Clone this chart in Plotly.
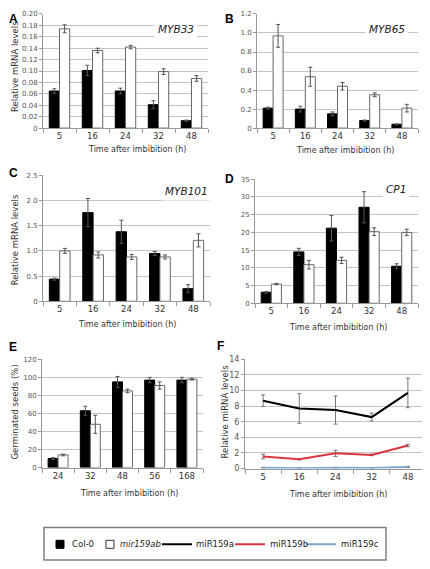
import plotly.graph_objects as go

# page window is 430x569; the page body adds an 8px margin, so the figure is 422x561
OFF = 8
W, H = 430 - OFF, 569 - OFF

# ---------------- data ----------------
times = ['5', '16', '24', '32', '48']
germ_times = ['24', '32', '48', '56', '168']

myb33_col = [0.065, 0.101, 0.065, 0.041, 0.013]
myb33_col_err = [0.004, 0.009, 0.005, 0.007, 0.001]
myb33_mir = [0.174, 0.136, 0.142, 0.099, 0.087]
myb33_mir_err = [0.007, 0.004, 0.003, 0.005, 0.005]

myb65_col = [0.21, 0.20, 0.15, 0.08, 0.04]
myb65_col_err = [0.01, 0.03, 0.02, 0.005, 0.005]
myb65_mir = [0.97, 0.54, 0.44, 0.35, 0.21]
myb65_mir_err = [0.12, 0.10, 0.04, 0.02, 0.04]

myb101_col = [0.44, 1.76, 1.38, 0.95, 0.25]
myb101_col_err = [0.02, 0.28, 0.23, 0.04, 0.08]
myb101_mir = [1.00, 0.92, 0.88, 0.88, 1.21]
myb101_mir_err = [0.05, 0.06, 0.05, 0.04, 0.13]

cp1_col = [3.1, 14.5, 21.2, 27.1, 10.45]
cp1_col_err = [0.2, 1.0, 3.6, 4.4, 0.7]
cp1_mir = [5.4, 10.9, 12.1, 20.2, 20.0]
cp1_mir_err = [0.2, 1.2, 0.9, 1.1, 0.9]

germ_col = [10, 63, 95, 97, 97]
germ_col_err = [1, 5, 6, 3, 3]
germ_mir = [14, 48, 85, 91, 98]
germ_mir_err = [1, 10, 2, 4, 1]

mir159a = [8.7, 7.7, 7.5, 6.6, 9.7]
mir159a_err = [0.75, 1.9, 1.8, 0.5, 1.9]
mir159b = [1.55, 1.2, 1.95, 1.75, 2.95]
mir159b_err = [0.3, 0.1, 0.4, 0.1, 0.15]
mir159c = [0.1, 0.05, 0.1, 0.08, 0.2]
mir159c_err = [0.05, 0.03, 0.05, 0.03, 0.08]

ticks_a = ['0', '0.02', '0.04', '0.06', '0.08', '0.10', '0.12', '0.14', '0.16', '0.18', '0.20']
ticks_b = ['0', '0.2', '0.4', '0.6', '0.8', '1.0', '1.2']
ticks_c = ['0', '0.5', '1.0', '1.5', '2.0', '2.5']
ticks_d = ['0', '5', '10', '15', '20', '25', '30', '35']
ticks_e = ['0', '20', '40', '60', '80', '100', '120']
ticks_f = ['0', '2', '4', '6', '8', '10', '12', '14']

x_title = 'Time after imbibition (h)'
gene_names = ['MYB33', 'MYB65', 'MYB101', 'CP1']
panel_letters = ['A', 'B', 'C', 'D', 'E', 'F']
legend_labels = ['Col-0', '<i>mir159ab</i>', 'miR159a', 'miR159b', 'miR159c']

# ---------------- helpers ----------------
FONT = 'DejaVu Sans'


def px(x):
    return (x - OFF) / W


def py(y):
    return 1 - (y - OFF) / H


def vals(tt):
    return [float(t) for t in tt]


fig = go.Figure()

# panel pixel boxes in window pixels: (x0, x1, ytop, ybottom)
boxes = [
    (43, 208, 10, 126),
    (257, 418, 10, 126),
    (43, 210, 174, 302),
    (255, 418, 178, 304),
    (42, 203, 361, 471),
    (245, 426, 361, 472),
]
tick_lists = [ticks_a, ticks_b, ticks_c, ticks_d, ticks_e, ticks_f]
ytick_sizes = [7, 7, 7, 7, 7, 8]
cats = [times, times, times, times, germ_times, times]

layout_axes = {}
for i, (b, tl, ts, ct) in enumerate(zip(boxes, tick_lists, ytick_sizes, cats)):
    n = '' if i == 0 else str(i + 1)
    tv = vals(tl)
    layout_axes['xaxis' + n] = dict(
        domain=[px(b[0]), px(b[1])], anchor='y' + n, type='category',
        categoryorder='array', categoryarray=ct, range=[-0.5, len(ct) - 0.5],
        tickson='boundaries', ticks='outside', ticklen=4, tickcolor='#999',
        showline=True, linecolor='#999', linewidth=1, showgrid=False,
        tickfont=dict(family=FONT, size=8.5, color='#333'), fixedrange=True)
    layout_axes['yaxis' + n] = dict(
        domain=[py(b[3]), py(b[2])], anchor='x' + n,
        range=[0, tv[-1]], tickvals=tv, ticktext=tl,
        ticks='outside', ticklen=3, tickcolor='#999',
        showline=True, linecolor='#999', linewidth=1,
        showgrid=True, gridcolor='#c4c4c4', gridwidth=1, zeroline=False,
        tickfont=dict(family=FONT, size=ts, color='#555'), fixedrange=True)


def add_bars(i, x, col, col_err, mir, mir_err):
    n = '' if i == 0 else str(i + 1)
    fig.add_trace(go.Bar(
        x=x, y=col, name='Col-0', showlegend=False,
        marker=dict(color='black', line=dict(color='black', width=1)),
        error_y=dict(type='data', array=col_err, color='#555', thickness=1, width=2),
        xaxis='x' + n, yaxis='y' + n))
    fig.add_trace(go.Bar(
        x=x, y=mir, name='mir159ab', showlegend=False,
        marker=dict(color='white', line=dict(color='#666', width=1)),
        error_y=dict(type='data', array=mir_err, color='#555', thickness=1, width=2),
        xaxis='x' + n, yaxis='y' + n))


add_bars(0, times, myb33_col, myb33_col_err, myb33_mir, myb33_mir_err)
add_bars(1, times, myb65_col, myb65_col_err, myb65_mir, myb65_mir_err)
add_bars(2, times, myb101_col, myb101_col_err, myb101_mir, myb101_mir_err)
add_bars(3, times, cp1_col, cp1_col_err, cp1_mir, cp1_mir_err)
add_bars(4, germ_times, germ_col, germ_col_err, germ_mir, germ_mir_err)

# legend swatches for the bar series (labels are placed as text next to them)
fig.add_trace(go.Scatter(x=[None], y=[None], mode='markers', name='', legend='legend',
                         marker=dict(symbol='square', size=8, color='black', line=dict(color='black', width=1)),
                         xaxis='x6', yaxis='y6'))
fig.add_trace(go.Scatter(x=[None], y=[None], mode='markers', name='', legend='legend2',
                         marker=dict(symbol='square', size=8, color='white', line=dict(color='#333', width=1)),
                         xaxis='x6', yaxis='y6'))

for yv, ye, color, lg in [
        (mir159a, mir159a_err, 'black', 'legend3'),
        (mir159b, mir159b_err, '#d9363e', 'legend4'),
        (mir159c, mir159c_err, '#7fa4d0', 'legend5')]:
    fig.add_trace(go.Scatter(
        x=times, y=yv, name='', mode='lines', legend=lg,
        line=dict(color=color, width=2),
        error_y=dict(type='data', array=ye, color='#777', thickness=1, width=2),
        xaxis='x6', yaxis='y6'))

annotations = []
# panel letters
for letter, (x, y) in zip(panel_letters, [(13, 15), (229, 15), (13, 172), (229, 178), (13, 348), (220, 347)]):
    annotations.append(dict(text='<b>%s</b>' % letter, x=px(x), y=py(y), xref='paper', yref='paper',
                            showarrow=False, xanchor='center', yanchor='middle',
                            font=dict(family='Liberation Sans', size=12, color='black')))
# gene names
for g, (x, y) in zip(gene_names, [(176, 25), (387, 25), (186, 190), (396, 188)]):
    annotations.append(dict(text='<i>%s</i>' % g, x=px(x), y=py(y), xref='paper', yref='paper',
                            showarrow=False, xanchor='center', yanchor='middle', bgcolor='white',
                            borderpad=3,
                            font=dict(family=FONT, size=10.5, color='#222')))
# x titles
for (x, y) in [(137, 148), (345, 149), (127, 326), (338, 329), (129, 497), (338, 498)]:
    annotations.append(dict(text=x_title, x=px(x), y=py(y), xref='paper', yref='paper',
                            showarrow=False, xanchor='center', yanchor='middle',
                            font=dict(family=FONT, size=8, color='#333')))
# y titles
for t, (x, y) in [('Relative mRNA levels', (15, 64)), ('Relative mRNA levels', (15, 240)),
                  ('Germinated seeds (%)', (15, 415)), ('Relative miRNA levels', (225, 414))]:
    annotations.append(dict(text=t, x=px(x), y=py(y), xref='paper', yref='paper', textangle=-90,
                            showarrow=False, xanchor='center', yanchor='middle',
                            font=dict(family=FONT, size=8.5, color='#333')))
# legend labels
for lab, x in zip(legend_labels, [70, 118, 194, 268, 339]):
    annotations.append(dict(text=lab, x=px(x), y=py(549), xref='paper', yref='paper',
                            showarrow=False, xanchor='left', yanchor='middle',
                            font=dict(family=FONT, size=8.5, color='#222')))

shapes = [dict(type='rect', xref='paper', yref='paper', x0=px(44), x1=px(386), y0=py(565), y1=py(532),
               line=dict(color='#808080', width=1.5), fillcolor='rgba(0,0,0,0)')]

legends = {}
for key, cx in zip(['legend', 'legend2', 'legend3', 'legend4', 'legend5'], [60, 110, 177, 250, 321]):
    legends[key] = dict(orientation='h', x=px(cx - 20), xanchor='left', y=py(549), yanchor='middle',
                        bgcolor='rgba(0,0,0,0)', borderwidth=0, itemwidth=30,
                        font=dict(family=FONT, size=8.5, color='#222'))

fig.update_layout(
    width=W, height=H, margin=dict(l=0, r=0, t=0, b=0),
    paper_bgcolor='white', plot_bgcolor='white',
    barmode='group', bargap=0.38, bargroupgap=0,
    font=dict(family=FONT, color='#333'),
    showlegend=True,
    annotations=annotations, shapes=shapes,
    **legends, **layout_axes)

fig.write_html('out.html')
